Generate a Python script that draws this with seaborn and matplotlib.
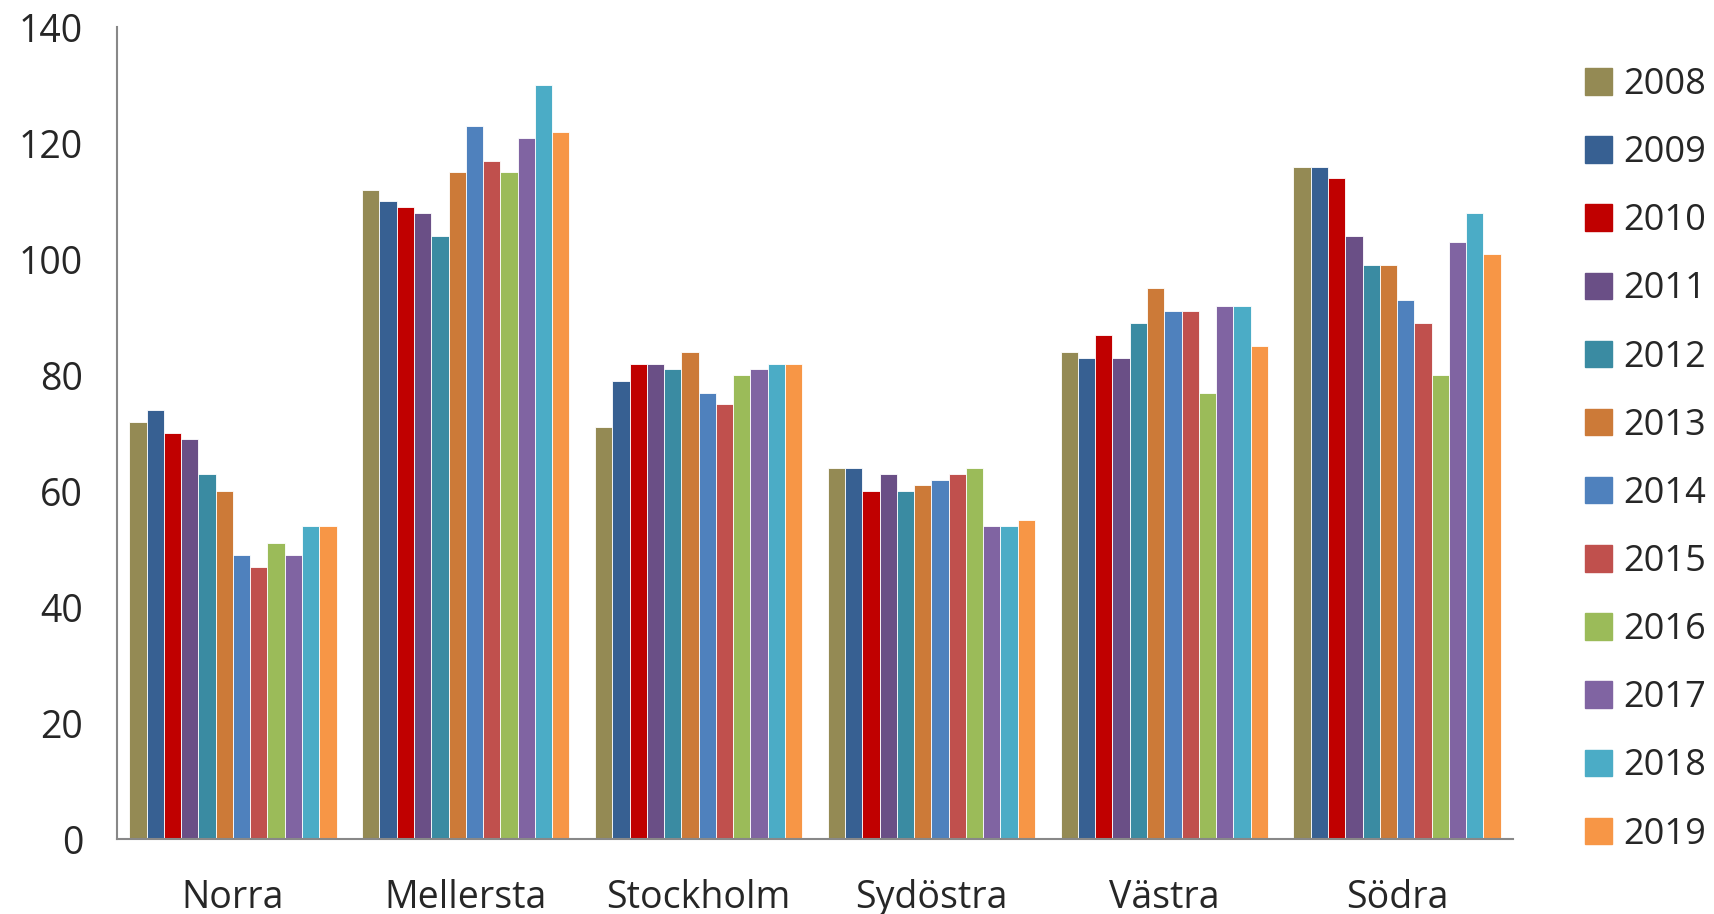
import pandas as pd
import matplotlib.pyplot as plt
import seaborn as sns
import numpy as np

regioner = ['Norra', 'Mellersta', 'Stockholm', 'Sydöstra', 'Västra', 'Södra']
ar = ['2008', '2009', '2010', '2011', '2012', '2013',
      '2014', '2015', '2016', '2017', '2018', '2019']

norra = [72, 74, 70, 69, 63, 60, 49, 47, 51, 49, 54, 54]
mellersta = [112, 110, 109, 108, 104, 115, 123, 117, 115, 121, 130, 122]
stockholm = [71, 79, 82, 82, 81, 84, 77, 75, 80, 81, 82, 82]
sydostra = [64, 64, 60, 63, 60, 61, 62, 63, 64, 54, 54, 55]
vastra = [84, 83, 87, 83, 89, 95, 91, 91, 77, 92, 92, 85]
sodra = [116, 116, 114, 104, 99, 99, 93, 89, 80, 103, 108, 101]

farger = ['#948A54', '#376092', '#C00000', '#6A4F86', '#3A8BA2', '#CC7A38',
          '#4F81BD', '#C0504D', '#9BBB59', '#8064A2', '#4BACC6', '#F79646']

varden = [norra, mellersta, stockholm, sydostra, vastra, sodra]
rader = []
for region, v in zip(regioner, varden):
    for a, x in zip(ar, v):
        rader.append({'Region': region, 'Ar': a, 'Varde': x})
df = pd.DataFrame(rader)

sns.set_style('white')
plt.rcParams['font.family'] = ['Open Sans', 'DejaVu Sans']

fig = plt.figure(figsize=(17.14, 9.14), dpi=100)
ax = fig.add_axes([0.068, 0.082, 0.815, 0.888])

sns.barplot(data=df, x='Region', y='Varde', hue='Ar', order=regioner, hue_order=ar,
            palette=farger, width=0.89, saturation=1, ax=ax, legend=False,
            edgecolor='white', linewidth=0.6)

ax.set_xlim(-0.5, 5.5)
ax.set_ylim(0, 140)
ax.set_yticks(range(0, 141, 20))
ax.set_xlabel('')
ax.set_ylabel('')

ax.set_xticks(np.arange(-0.5, 6, 1), minor=True)
ax.tick_params(axis='x', which='major', length=0, labelsize=27, pad=29)
ax.tick_params(axis='x', which='minor', length=10, width=1.5, color='#888888', direction='out')
ax.tick_params(axis='y', length=10, width=1.5, color='#888888', direction='out', labelsize=27, pad=14)

for side in ['top', 'right']:
    ax.spines[side].set_visible(False)
for side in ['left', 'bottom']:
    ax.spines[side].set_color('#888888')
    ax.spines[side].set_linewidth(1.5)

handles = [plt.Rectangle((0, 0), 1, 1, color=c) for c in farger]
fig.legend(handles, ar, loc='center left', bbox_to_anchor=(0.906, 0.497),
           frameon=False, fontsize=26, handlelength=0.75, handleheight=0.75,
           handletextpad=0.3, labelspacing=0.89)

fig.savefig('out.png', dpi=100)
